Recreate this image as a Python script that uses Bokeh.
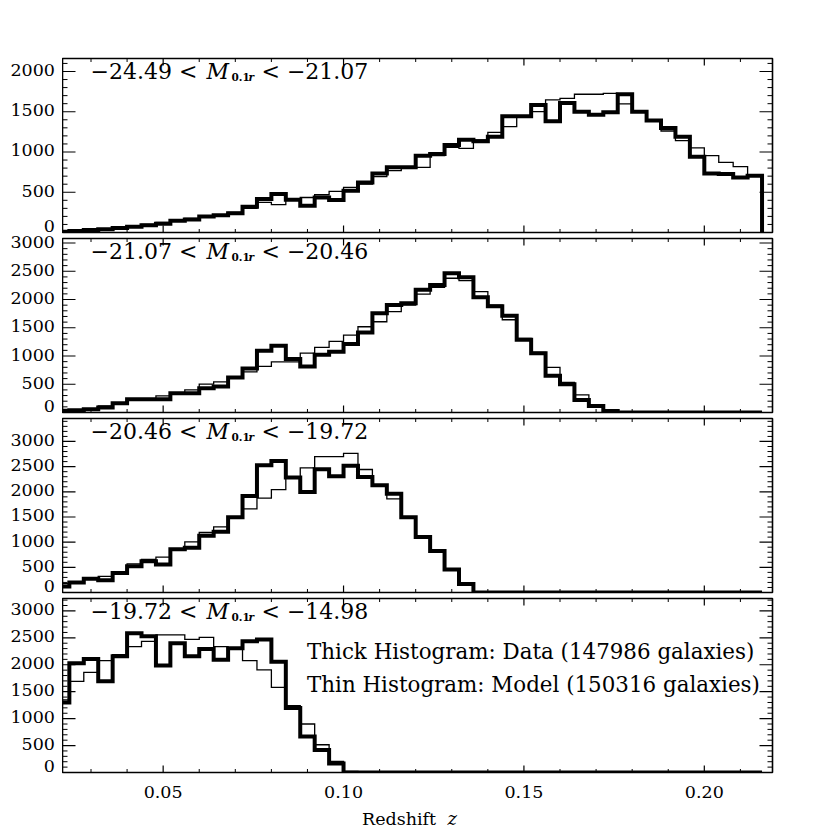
import numpy as np
from bokeh.plotting import figure
from bokeh.models import Range1d, Label, Spacer
from bokeh.layouts import column, row
from bokeh.core.properties import value
from bokeh.embed import file_html
from bokeh.resources import INLINE

# ---------------- data ----------------
bin_start = 0.020
bin_width = 0.004
n_bins = 49
bin_edges = [round(bin_start + bin_width * i, 3) for i in range(n_bins + 1)]

mag_bounds = ["\u221224.49", "\u221221.07", "\u221220.46", "\u221219.72", "\u221214.98"]

data_1 = [10, 20, 30, 40, 55, 70, 90, 110, 145, 160,
          200, 215, 240, 320, 415, 478, 407, 332, 435, 403,
          519, 622, 734, 809, 809, 954, 975, 1087, 1153, 1132,
          1190, 1443, 1443, 1585, 1381, 1610, 1501, 1464, 1493, 1717,
          1501, 1390, 1298, 1190, 942, 734, 726, 684, 705]
model_1 = [10, 20, 30, 45, 60, 80, 100, 125, 150, 175,
           200, 220, 250, 300, 375, 345, 407, 435, 469, 510,
           560, 602, 693, 768, 817, 809, 954, 1058, 1045, 1150,
           1244, 1315, 1431, 1501, 1647, 1667, 1717, 1717, 1729, 1597,
           1501, 1380, 1261, 1141, 1050, 954, 871, 817, 700]

data_2 = [30, 40, 58, 88, 165, 236, 236, 236, 342, 342,
          431, 461, 621, 780, 1092, 1181, 945, 815, 1021, 1074,
          1211, 1418, 1755, 1902, 1932, 2174, 2257, 2464, 2394, 2039,
          1879, 1713, 1287, 1051, 649, 502, 223, 117, 28, 0,
          0, 0, 0, 0, 0, 0, 0, 0, 0]
model_2 = [30, 45, 70, 117, 150, 236, 236, 295, 342, 401,
           502, 543, 621, 720, 815, 897, 897, 1051, 1152, 1259,
           1371, 1518, 1606, 1784, 1902, 2097, 2216, 2376, 2334, 2138,
           1902, 1642, 1312, 1063, 798, 533, 312, 129, 30, 5,
           0, 0, 0, 0, 0, 0, 0, 0, 0]

data_3 = [120, 201, 275, 241, 389, 522, 623, 556, 857, 891,
          1125, 1205, 1494, 1915, 2530, 2610, 2283, 1995, 2450, 2309,
          2517, 2296, 2128, 1962, 1494, 1100, 824, 456, 168, 0,
          0, 0, 0, 0, 0, 0, 0, 0, 0, 0,
          0, 0, 0, 0, 0, 0, 0, 0, 0]
model_3 = [175, 187, 288, 321, 389, 569, 656, 703, 843, 1004,
           1192, 1305, 1494, 1661, 1875, 2042, 2283, 2477, 2698, 2698,
           2765, 2443, 2114, 1861, 1494, 1100, 810, 470, 175, 15,
           0, 0, 0, 0, 0, 0, 0, 0, 0, 0,
           0, 0, 0, 0, 0, 0, 0, 0, 0]

data_4 = [1301, 2027, 2108, 1692, 2157, 2584, 2528, 1984, 2398, 2157,
          2294, 2095, 2305, 2435, 2467, 2058, 1197, 667, 416, 167,
          0, 0, 0, 0, 0, 0, 0, 0, 0, 0,
          0, 0, 0, 0, 0, 0, 0, 0, 0, 0,
          0, 0, 0, 0, 0, 0, 0, 0, 0]
model_4 = [1350, 1692, 1859, 2077, 2188, 2337, 2435, 2554, 2554, 2473,
           2510, 2337, 2305, 2077, 1904, 1580, 1240, 900, 515, 205,
           20, 0, 0, 0, 0, 0, 0, 0, 0, 0,
           0, 0, 0, 0, 0, 0, 0, 0, 0, 0,
           0, 0, 0, 0, 0, 0, 0, 0, 0]

data_series = [data_1, data_2, data_3, data_4]
model_series = [model_1, model_2, model_3, model_4]

x_major_ticks = [0.05, 0.10, 0.15, 0.20]
x_minor_ticks = [0.03, 0.04, 0.06, 0.07, 0.08, 0.09, 0.11, 0.12, 0.13, 0.14,
                 0.16, 0.17, 0.18, 0.19, 0.21]
y_major_step = 500
y_minor_step = 100

legend_texts = ["Thick Histogram: Data (147986 galaxies)",
                "Thin Histogram: Model (150316 galaxies)"]
x_label = "Redshift"
x_label_var = "z"

# ---------------- layout constants ----------------
X_START, X_END = 0.0221, 0.2189
FRAME_W, FRAME_H = 710, 174
GAP = 3
TOP_SPACE = 55
LABEL_W = 62
BORDER_R = 40
FONT = "DejaVu Serif"
BOTTOM_H = 54
PAGE_H = TOP_SPACE + 4 * (FRAME_H + 2 * GAP) + BOTTOM_H


def px2z(px):
    return X_START + (px - LABEL_W) / FRAME_W * (X_END - X_START)


def step_path(edges, counts):
    xs, ys = [edges[0]], [0]
    for i, c in enumerate(counts):
        xs += [edges[i], edges[i + 1]]
        ys += [c, c]
    xs.append(edges[-1])
    ys.append(0)
    return xs, ys


def bare(fig):
    fig.grid.visible = False
    fig.background_fill_color = "white"
    fig.border_fill_color = "white"
    return fig


def label(fig, x, y, text, size, style="normal"):
    fig.add_layout(Label(x=x, y=y, text=text, text_font=FONT, text_font_style=style,
                         text_font_size=size, text_baseline="middle", text_color="black"))


# tall figure on the left that carries the y tick labels of all panels
lf = figure(frame_width=LABEL_W, frame_height=PAGE_H,
            x_range=Range1d(0, LABEL_W), y_range=Range1d(0, PAGE_H),
            x_axis_location=None, y_axis_location=None,
            output_backend="svg", toolbar_location=None,
            min_border_left=0, min_border_right=0, min_border_top=0, min_border_bottom=0)
bare(lf)
lf.outline_line_color = None

x_range = Range1d(X_START, X_END)
right_col = [Spacer(width=FRAME_W + BORDER_R, height=TOP_SPACE)]
for idx in range(4):
    dat = data_series[idx]
    mod = model_series[idx]
    ymax = 1.25 * max(max(dat), max(mod))
    u = ymax / FRAME_H
    y_major = list(range(0, int(ymax) + 1, y_major_step))
    y_minor = [v for v in range(y_minor_step, int(ymax) + 1, y_minor_step) if v % y_major_step]

    p = figure(frame_width=FRAME_W, frame_height=FRAME_H,
               x_range=x_range, y_range=Range1d(0, ymax),
               x_axis_location=None, y_axis_location=None,
               output_backend="svg", toolbar_location=None,
               min_border_left=0, min_border_right=BORDER_R,
               min_border_top=GAP, min_border_bottom=GAP)
    bare(p)
    p.outline_line_color = "black"
    p.outline_line_width = 1.6

    # inward tick marks on all four sides
    tick_kw = dict(line_color="black", length_units="screen")
    p.ray(x=x_major_ticks, y=[0] * 4, length=7, angle=np.pi / 2, line_width=1.2, **tick_kw)
    p.ray(x=x_minor_ticks, y=[0] * len(x_minor_ticks), length=3.5, angle=np.pi / 2, line_width=1, **tick_kw)
    p.ray(x=x_major_ticks, y=[ymax] * 4, length=7, angle=-np.pi / 2, line_width=1.2, **tick_kw)
    p.ray(x=x_minor_ticks, y=[ymax] * len(x_minor_ticks), length=3.5, angle=-np.pi / 2, line_width=1, **tick_kw)
    p.ray(x=[X_START] * len(y_major), y=y_major, length=13, angle=0, line_width=1.2, **tick_kw)
    p.ray(x=[X_START] * len(y_minor), y=y_minor, length=5, angle=0, line_width=1, **tick_kw)
    p.ray(x=[X_END] * len(y_major), y=y_major, length=13, angle=np.pi, line_width=1.2, **tick_kw)
    p.ray(x=[X_END] * len(y_minor), y=y_minor, length=5, angle=np.pi, line_width=1, **tick_kw)

    xs, ys = step_path(bin_edges, mod)
    p.line(xs, ys, line_color="black", line_width=1.3, line_join="miter")
    xs, ys = step_path(bin_edges, dat)
    p.line(xs, ys, line_color="black", line_width=4, line_join="miter")

    # panel label: lo < M_0.1r < hi
    lo = mag_bounds[idx]
    hi = mag_bounds[idx + 1]
    yb = 0.925 * ymax
    ys_ = 0.895 * ymax
    label(p, px2z(90), yb, f"{lo} <", "22px")
    label(p, px2z(206), yb, "M", "22px", "italic")
    label(p, px2z(231), ys_, "0.1", "10.5px", "bold")
    label(p, px2z(248), ys_, "r", "10.5px", "bold italic")
    label(p, px2z(261), yb, f"< {hi}", "22px")

    if idx == 3:
        for j, frac in enumerate([0.697, 0.505]):
            label(p, px2z(306.5), frac * ymax, legend_texts[j], "21.4px")

    right_col.append(p)

    # y tick labels for this panel, mapped through a range of its own in the tall figure
    frame_top = TOP_SPACE + idx * (FRAME_H + 2 * GAP) + GAP
    frame_bottom = frame_top + FRAME_H
    rname = f"panel{idx}"
    lf.extra_y_ranges[rname] = Range1d(-(PAGE_H - frame_bottom) * u, ymax + frame_top * u)
    nz = [v for v in y_major if v != 0]
    lf.text(x=[54.5] * len(nz), y=[v + 1.5 * u for v in nz], text=[str(v) for v in nz],
            y_range_name=rname,
            text_font=value(FONT), text_font_size="17.5px", text_color="black",
            text_align="right", text_baseline="middle")
    lf.text(x=[54.5], y=[6.8 * u], text=["0"], y_range_name=rname,
            text_font=value(FONT), text_font_size="17.5px", text_color="black",
            text_align="right", text_baseline="middle")

# x tick labels and axis title under the last panel, on the shared x scale
bf = figure(frame_width=FRAME_W, frame_height=BOTTOM_H,
            x_range=x_range, y_range=Range1d(0, BOTTOM_H),
            x_axis_location=None, y_axis_location=None,
            output_backend="svg", toolbar_location=None,
            min_border_left=0, min_border_right=BORDER_R,
            min_border_top=0, min_border_bottom=0)
bare(bf)
bf.outline_line_color = None
bf.text(x=x_major_ticks, y=[38] * len(x_major_ticks), text=[f"{v:.2f}" for v in x_major_ticks],
        text_font=value(FONT), text_font_size="17.5px", text_color="black",
        text_align="center", text_baseline="middle")
bf.text(x=[px2z(361.5)], y=[11], text=[x_label],
        text_font=value(FONT), text_font_size="17.5px", text_color="black",
        text_align="left", text_baseline="middle")
bf.text(x=[px2z(447)], y=[11], text=[x_label_var],
        text_font=value(FONT), text_font_size="18px", text_font_style="italic", text_color="black",
        text_align="left", text_baseline="middle")
right_col.append(bf)

layout = row(lf, column(*right_col, spacing=0), spacing=0)
open("out.html", "w").write(file_html(layout, INLINE))
